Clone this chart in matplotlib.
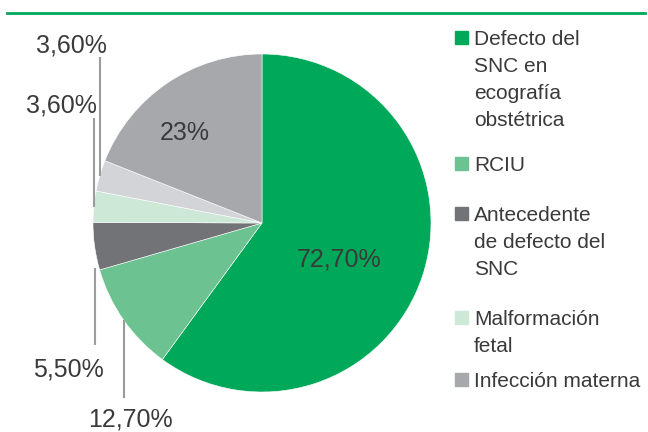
import numpy as np
import matplotlib
matplotlib.use("Agg")
import matplotlib.pyplot as plt
from matplotlib.patches import Rectangle
from matplotlib.lines import Line2D

plt.rcParams['font.family'] = ['Liberation Sans', 'DejaVu Sans']

# data (clockwise from the top)
values = [72.7, 12.7, 5.5, 3.6, 3.6, 23]
value_labels = ["72,70%", "12,70%", "5,50%", "3,60%", "3,60%", "23%"]
colors = ["#00A859", "#6CC291", "#727377", "#CDE8D6", "#D3D4D7", "#A7A8AC"]

legend_names = ["Defecto del\nSNC en\necografía\nobstétrica", "RCIU",
                "Antecedente\nde defecto del\nSNC", "Malformación\nfetal",
                "Infección materna"]
legend_colors = ["#00A859", "#6CC291", "#727377", "#CDE8D6", "#A7A8AC"]

W, H = 648, 432
txt = "#3a3a3a"
line_gray = "#9c9c9c"

fig = plt.figure(figsize=(W / 100, H / 100), dpi=100)

# pie centre (262, 223) px, radius 169 px
cx, cy, r = 262, 223, 169
ax = fig.add_axes([(cx - r) / W, (H - cy - r) / H, 2 * r / W, 2 * r / H])
wedges, _ = ax.pie(values, colors=colors, startangle=90, counterclock=False,
                   wedgeprops=dict(edgecolor="white", linewidth=0.4))
ax.set_xlim(-1, 1)
ax.set_ylim(-1, 1)
ax.axis("off")


def fx(px):
    return px / W


def fy(py):
    return 1 - py / H


def dy(py):
    return (cy - py) / r


# green rule at the top
fig.add_artist(Line2D([fx(7), fx(645)], [fy(12.5), fy(12.5)], color="#00A859",
                      lw=2, transform=fig.transFigure))

# labels inside
fig.text(fx(339), fy(267), value_labels[0], fontsize=18, color=txt,
         ha="center", va="baseline")
fig.text(fx(185), fy(140), value_labels[5], fontsize=18, color=txt,
         ha="center", va="baseline")

# outside labels with leader lines: (wedge index, line y from, line y to, text x, text y)
outside = [(4, None, 57, 71.5, 53),
           (3, None, 118, 61, 113),
           (2, 268, 345, 68, 377),
           (1, None, 398, 130.5, 426)]
for i, y0, y1, tx, ty in outside:
    w = wedges[i]
    mid = np.deg2rad((w.theta1 + w.theta2) / 2)
    x = np.cos(mid)
    ystart = np.sin(mid) if y0 is None else dy(y0)
    ax.plot([x, x], [ystart, dy(y1)], color=line_gray, lw=1.5, clip_on=False,
            solid_capstyle="butt")
    fig.text(fx(tx), fy(ty), value_labels[i], fontsize=18, color=txt,
             ha="center", va="baseline")

# legend
baselines = [45, 171, 221, 325, 387]
step = 27
for name, col, b in zip(legend_names, legend_colors, baselines):
    fig.add_artist(Rectangle((fx(455), fy(b - 1)), 13 / W, 13 / H, color=col,
                             transform=fig.transFigure))
    for k, line in enumerate(name.split("\n")):
        fig.text(fx(474), fy(b + k * step), line, fontsize=15, color=txt,
                 ha="left", va="baseline")

fig.savefig("out.png", dpi=100)
